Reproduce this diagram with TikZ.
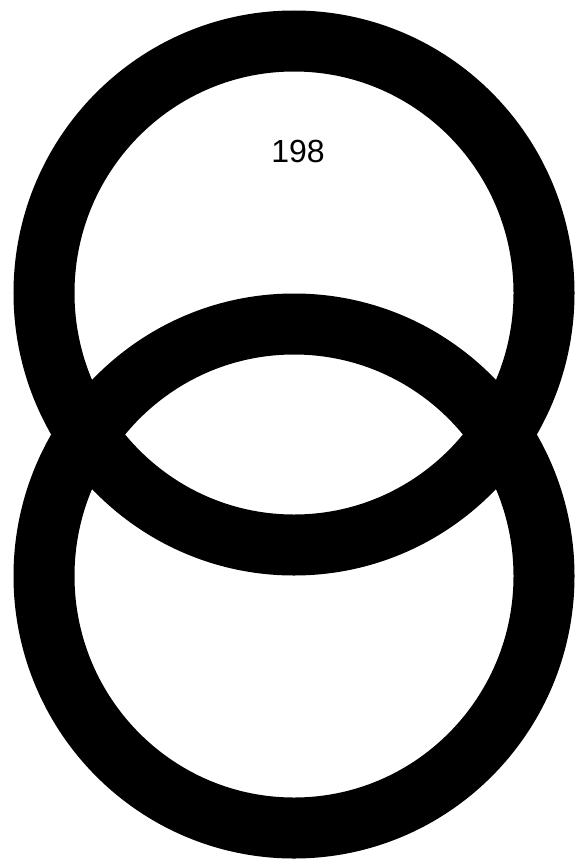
\documentclass[tikz,border=0pt]{standalone}
\usepackage{fontspec}
\setmainfont{Liberation Sans}
\usetikzlibrary{positioning}

\begin{document}
\begin{tikzpicture}[x=1pt, y=-1pt, ring/.style={draw=black, line width=61pt}, every node/.style={font=\fontsize{32}{38}\selectfont}]
  \useasboundingbox (0,0) rectangle (588,859);
  \draw[ring] (294,293) ellipse (250 and 252);
  \draw[ring] (294,576) ellipse (250 and 252);
  \node (count) at (298,151) {198};
\end{tikzpicture}
\end{document}
